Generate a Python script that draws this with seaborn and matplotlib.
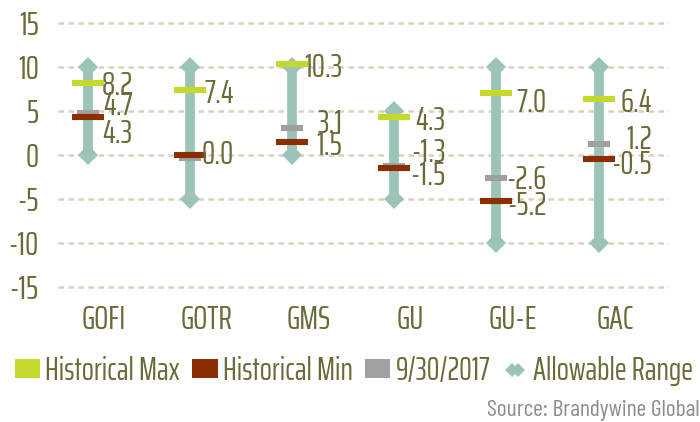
import matplotlib
matplotlib.use("Agg")
import matplotlib.pyplot as plt
from matplotlib.lines import Line2D
from matplotlib.patches import Patch
import numpy as np
import pandas as pd
import seaborn as sns

funds = ["GOFI", "GOTR", "GMS", "GU", "GU-E", "GAC"]
hist_max = [8.2, 7.4, 10.3, 4.3, 7.0, 6.4]
hist_min = [4.3, 0.0, 1.5, -1.5, -5.2, -0.5]
current = [4.7, -0.3, 3.1, -1.3, -2.6, 1.2]
range_low = [0, -5, 0, -5, -10, -10]
range_high = [10, 10, 10, 5, 10, 10]

# label placement: right edge offset (category units) and vertical nudges
label_dx = [0.44, 0.43, 0.49, 0.50, 0.49, 0.52]
max_nudge = [0.0, -0.1, -0.1, -0.1, -0.77, -0.17]
min_nudge = [-1.6, 0.33, -0.1, -0.56, -0.26, -0.3]
cur_nudge = [1.15, None, 0.75, 1.86, 0.1, 0.83]

GREEN = "#c5d92d"
BROWN = "#8b2e02"
GREY = "#a0a0a4"
TEAL = "#9bc3b8"
GRID = "#d9d3bd"
TEXT = "#6b6a38"
FS = 24

sns.set_theme(style="white")
plt.rcParams["font.family"] = ["Saira ExtraCondensed", "DejaVu Sans"]
plt.rcParams["axes.unicode_minus"] = False

fig = plt.figure(figsize=(7, 4.22), dpi=100)
ax = fig.add_axes([0.083, 0.3095, 0.873, 0.647])

x = np.arange(len(funds))
rng = pd.DataFrame({"fund": funds * 2, "pos": list(x) * 2,
                    "value": range_low + range_high})
sns.lineplot(data=rng, x="pos", y="value", units="fund", estimator=None,
             sort=False, color=TEAL, lw=7, marker="D", markersize=10.5,
             markeredgewidth=0, ax=ax, legend=False, zorder=2)

marks = pd.DataFrame({"pos": x, "max": hist_max, "min": hist_min, "cur": current})
for col, colour, size, z in [("max", GREEN, 500, 3), ("cur", GREY, 230, 4),
                             ("min", BROWN, 500, 5)]:
    sns.scatterplot(data=marks, x="pos", y=col, marker="_", s=size,
                    linewidth=4.4, color=colour, edgecolor=colour,
                    ax=ax, zorder=z, legend=False)

for i in x:
    for vals, nudge in [(hist_max, max_nudge), (hist_min, min_nudge),
                        (current, cur_nudge)]:
        if nudge[i] is None:
            continue
        ax.text(i + label_dx[i], vals[i] + nudge[i], f"{vals[i]:.1f}",
                ha="right", va="center_baseline", fontsize=FS, color=TEXT,
                zorder=6)

ax.set_xlim(-0.29, 5.69)
ax.set_ylim(-15.5, 15.5)
ax.set_yticks(range(-15, 16, 5))
ax.set_xticks(x + 0.16)
ax.set_xticklabels(funds)
ax.set_xlabel("")
ax.set_ylabel("")
ax.yaxis.grid(True, color=GRID, lw=1.8, ls=(0, (2.2, 1.8)))
ax.xaxis.grid(False)
ax.set_axisbelow(True)
for s in ax.spines.values():
    s.set_visible(False)
ax.tick_params(length=0, labelsize=FS, colors=TEXT)
ax.tick_params(axis="y", pad=14)
ax.tick_params(axis="x", pad=10)

handles = [
    Patch(facecolor=GREEN, edgecolor="none"),
    Patch(facecolor=BROWN, edgecolor="none"),
    Patch(facecolor=GREY, edgecolor="none"),
    Line2D([0], [0], color=TEAL, lw=4, marker="D", markersize=7, markeredgewidth=0),
]
labels = ["Historical Max", "Historical Min", "9/30/2017", "Allowable Range"]
fig.legend(handles, labels, loc="center left", bbox_to_anchor=(0.021, 0.121),
           ncol=4, frameon=False, fontsize=23, labelcolor=TEXT,
           handlelength=0.8, handleheight=0.5, handletextpad=0.16,
           columnspacing=0.38, numpoints=2, borderaxespad=0, borderpad=0)

fig.text(0.999, 0.028, "Source: Brandywine Global", ha="right", va="center",
         color="#8c8c8c", fontsize=17, family=["Barlow Condensed", "DejaVu Sans"])

fig.savefig("out.png", dpi=100)
